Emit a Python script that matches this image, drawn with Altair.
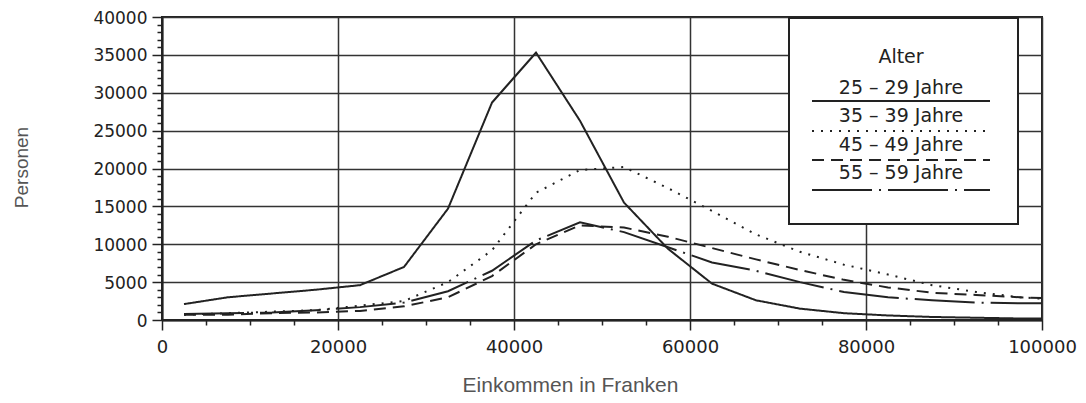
import altair as alt
import pandas as pd

# Einkommen (Klassenmitten, Franken)
income = [2500, 7500, 12500, 17500, 22500, 27500, 32500, 37500, 42500, 47500,
          52500, 57500, 62500, 67500, 72500, 77500, 82500, 87500, 92500, 97500, 100000]
age_groups = ["25 – 29 Jahre", "35 – 39 Jahre", "45 – 49 Jahre", "55 – 59 Jahre"]
p_25_29 = [2100, 3000, 3500, 4000, 4600, 7000, 14700, 28700, 35300, 26300,
           15500, 9400, 4800, 2600, 1500, 900, 600, 400, 300, 200, 200]
p_35_39 = [700, 900, 1100, 1300, 1900, 2500, 5000, 9200, 16800, 19800,
           20200, 17400, 14400, 11300, 9000, 7300, 6000, 4600, 3700, 3000, 2800]
p_45_49 = [700, 700, 900, 1000, 1200, 1800, 3000, 5800, 10000, 12500,
           12200, 11000, 9500, 8000, 6600, 5300, 4300, 3600, 3300, 3000, 2900]
p_55_59 = [800, 900, 1000, 1300, 1700, 2300, 3800, 6500, 10500, 12900,
           11600, 9600, 7600, 6500, 5000, 3700, 3000, 2600, 2300, 2200, 2200]
x_ticks = list(range(0, 100001, 5000))
y_ticks = list(range(0, 40001, 1000))
legend_title = "Alter"
x_title = "Einkommen in Franken"
y_title = "Personen"

series = [p_25_29, p_35_39, p_45_49, p_55_59]
rows = []
for name, vals in zip(age_groups, series):
    for x, v in zip(income, vals):
        rows.append({"income": x, "persons": v, "age": name})
df = pd.DataFrame(rows)

dashes = [[1, 0], [2, 7], [12, 7], [60, 7, 2, 7]]
INK = "#222222"
W, H = 880, 303
TOP = 9

x_axis = alt.Axis(
    values=x_ticks, format="d",
    labelExpr="datum.value % 20000 === 0 ? datum.label : ''",
    labelOverlap=False, labelFlush=False, labelPadding=8, labelFontSize=18,
    tickSize={"condition": {"test": "datum.value % 20000 === 0", "value": 10}, "value": 5},
    gridOpacity={"condition": {"test": "datum.value % 20000 === 0", "value": 1}, "value": 0},
    grid=True, title=x_title, titleX=408, titleY=65, titleAlign="center",
    titleBaseline="middle",
)
y_axis = alt.Axis(
    values=y_ticks, format="d",
    labelExpr="datum.value % 5000 === 0 ? datum.label : ''",
    labelOverlap=False, labelFlush=False, labelPadding=5, labelFontSize=17,
    labelOffset=1,
    tickSize={"condition": {"test": "datum.value % 5000 === 0", "value": 10}, "value": 5},
    gridOpacity={"condition": {"test": "datum.value % 5000 === 0", "value": 1}, "value": 0},
    grid=True, title=y_title, titleX=-141, titleY=150, titleAlign="center",
    titleBaseline="middle", titleAngle=-90, titleFontSize=19,
)

lines = alt.Chart(df).mark_line(color=INK, strokeWidth=2, strokeCap="butt").encode(
    x=alt.X("income:Q", scale=alt.Scale(domain=[0, 100000], nice=False), axis=x_axis),
    y=alt.Y("persons:Q", scale=alt.Scale(domain=[0, 40000], nice=False), axis=y_axis),
    strokeDash=alt.StrokeDash("age:N", scale=alt.Scale(domain=age_groups, range=dashes), legend=None),
    order="income:Q",
)

dy = 14 - (8 + TOP)  # keep legend at its page position
one = pd.DataFrame({"k": [0]})
box = alt.Chart(one).mark_rect(fill="white", stroke=INK, strokeWidth=2).encode(
    x=alt.value(627), x2=alt.value(856), y=alt.value(4 + dy), y2=alt.value(210 + dy)
)
layers = [lines, box]
layers.append(alt.Chart(one).mark_text(font="DejaVu Sans", fontSize=19, color=INK,
                                       align="center", baseline="middle").encode(
    x=alt.value(739), y=alt.value(43 + dy), text=alt.value(legend_title)))
label_y = [74, 102, 131, 159]
rule_y = [87, 117, 146, 176]
for name, d, ly, ry in zip(age_groups, dashes, label_y, rule_y):
    layers.append(alt.Chart(one).mark_text(font="DejaVu Sans", fontSize=19, color=INK,
                                           align="center", baseline="middle").encode(
        x=alt.value(739), y=alt.value(ly + dy), text=alt.value(name)))
    layers.append(alt.Chart(one).mark_rule(color=INK, strokeWidth=2, strokeDash=d,
                                           strokeCap="butt").encode(
        x=alt.value(650), x2=alt.value(828), y=alt.value(ry + dy)))

chart = alt.layer(*layers).properties(
    width=W, height=H, autosize="none",
    padding={"left": 154, "top": TOP, "right": 36, "bottom": 75},
    background="white",
).configure_view(stroke=INK, strokeWidth=2).configure_axis(
    domainColor=INK, domainWidth=2, tickColor=INK, tickWidth=1.5,
    gridColor="#333333", gridWidth=1.5,
    labelFont="DejaVu Sans", labelColor=INK,
    titleFont="Liberation Sans", titleFontSize=21, titleColor="#555555",
    titleFontWeight="normal",
)

chart.save("out.html", embed_options={"renderer": "svg", "actions": False})
